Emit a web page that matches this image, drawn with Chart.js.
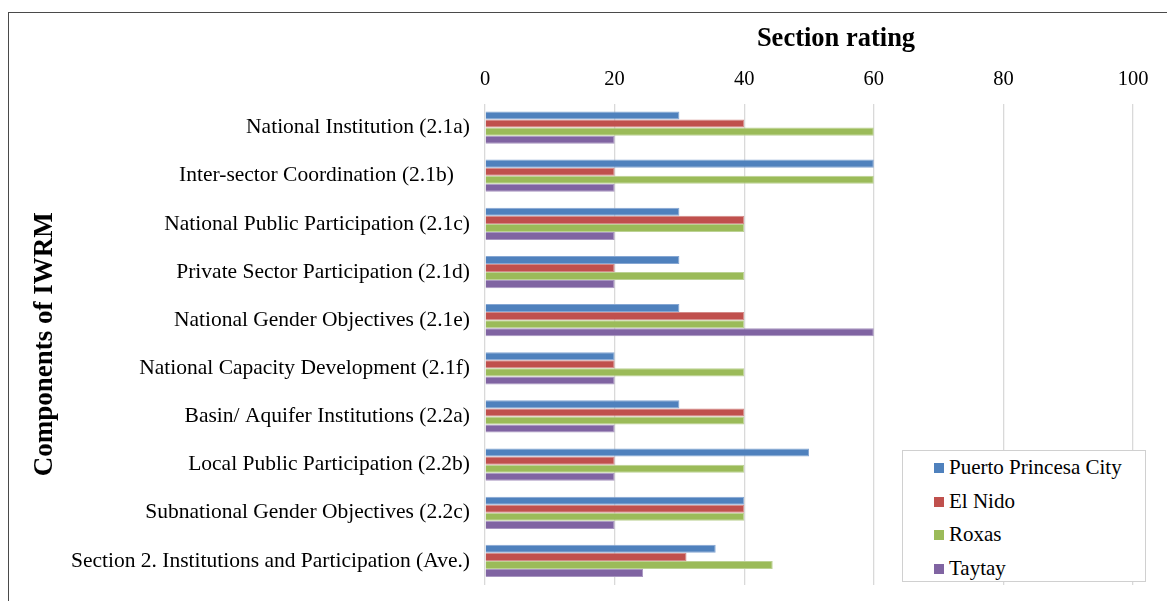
<!DOCTYPE html>
<html>
<head>
<meta charset="utf-8">
<script src="https://cdn.jsdelivr.net/npm/chart.js@4.4.1/dist/chart.umd.min.js"></script>
<style>
    html, body {
        margin: 0;
        padding: 0;
        background: #ffffff;
        overflow: hidden;
    }

    #wrap {
        position: relative;
        width: 1167px;
        height: 601px;
    }

    #frame {
        position: absolute;
        left: 8px;
        top: 12px;
        width: 1300px;
        height: 700px;
        border-left: 1px solid #4a4a4a;
        border-top: 1px solid #4a4a4a;
    }

    #chartCanvas {
        position: absolute;
        left: 0;
        top: 0;
    }

    #legend {
        position: absolute;
        left: 902px;
        top: 450px;
        width: 244px;
        height: 132px;
        border: 1px solid #d0d0d0;
        background: #ffffff;
        font-family: "Liberation Serif", serif;
        font-size: 21px;
        color: #000000;
        box-sizing: border-box;
        padding-top: 0px;
    }

    .legend-item {
        height: 33.5px;
        line-height: 33.5px;
        padding-left: 31px;
        white-space: nowrap;
    }

    .legend-box {
        display: inline-block;
        width: 10px;
        height: 10px;
        margin-right: 5px;
        vertical-align: 1px;
    }
</style>
</head>
<body>
<div id="wrap">
    <div id="frame"></div>
    <canvas id="chartCanvas" width="1167" height="601"></canvas>
    <div id="legend"></div>
</div>

<script>
const categories = [
    "National Institution (2.1a)",
    "Inter-sector Coordination (2.1b)   ",
    "National Public Participation (2.1c)",
    "Private Sector Participation (2.1d)",
    "National Gender Objectives (2.1e)",
    "National Capacity Development (2.1f)",
    "Basin/ Aquifer Institutions (2.2a)",
    "Local Public Participation (2.2b)",
    "Subnational Gender Objectives (2.2c)",
    "Section 2. Institutions and Participation (Ave.)",
];

const seriesNames = ["Puerto Princesa City", "El Nido", "Roxas", "Taytay"];

const puertoPrincesa = [30, 60, 30, 30, 30, 20, 30, 50, 40, 35.6];
const elNido = [40, 20, 40, 20, 40, 20, 40, 20, 40, 31.1];
const roxas = [60, 60, 40, 40, 40, 40, 40, 40, 40, 44.4];
const taytay = [20, 20, 20, 20, 60, 20, 20, 20, 20, 24.4];

const xTicks = [0, 20, 40, 60, 80, 100];

const seriesColors = ["#4f81bd", "#c0504d", "#9bbb59", "#8064a2"];
const seriesEdges = ["#86a7d3", "#d48a88", "#bcd294", "#a896c0"];

const serifFont = "'Liberation Serif', 'Times New Roman', serif";

const seriesValues = [puertoPrincesa, elNido, roxas, taytay];

const datasets = seriesNames.map((name, i) => ({
    label: name,
    data: seriesValues[i],
    backgroundColor: seriesColors[i],
    borderColor: seriesEdges[i],
    borderWidth: 1,
    categoryPercentage: 0.67,
    barPercentage: 1.0,
}));

// legend sits inside the plot, like the original
const legendDiv = document.getElementById("legend");
seriesNames.forEach((name, i) => {
    const item = document.createElement("div");
    item.className = "legend-item";
    const box = document.createElement("span");
    box.className = "legend-box";
    box.style.background = seriesColors[i];
    item.appendChild(box);
    item.appendChild(document.createTextNode(name));
    legendDiv.appendChild(item);
});

const topTitlePlugin = {
    id: "topTitle",
    afterDraw(chart) {
        const ctx = chart.ctx;
        ctx.save();
        ctx.font = "bold 26.5px " + serifFont;
        ctx.fillStyle = "#000000";
        ctx.textAlign = "center";
        ctx.textBaseline = "middle";
        ctx.fillText("Section rating", 836, 39);
        ctx.restore();
    },
};

new Chart(document.getElementById("chartCanvas"), {
    type: "bar",
    data: {
        labels: categories,
        datasets: datasets,
    },
    plugins: [topTitlePlugin],
    options: {
        indexAxis: "y",
        responsive: false,
        animation: false,
        layout: {
            padding: { left: 20, right: 34, top: 0, bottom: 16 },
        },
        plugins: {
            legend: { display: false },
            tooltip: { enabled: false },
        },
        scales: {
            x: {
                position: "top",
                min: 0,
                max: 100,
                afterBuildTicks: scale => {
                    scale.ticks = xTicks.map(v => ({ value: v }));
                },
                afterFit: scale => {
                    scale.height = 103.5;
                    scale.paddingLeft = 0;
                    scale.paddingRight = 0;
                },
                ticks: {
                    color: "#000000",
                    padding: 12,
                    font: { family: serifFont, size: 20.5 },
                },
                grid: {
                    color: "#d9d9d9",
                    lineWidth: 1.3,
                    drawTicks: false,
                },
                border: { display: false },
            },
            y: {
                afterFit: scale => {
                    scale.width = 465;
                    scale.paddingTop = 0;
                    scale.paddingBottom = 0;
                },
                ticks: {
                    color: "#000000",
                    padding: 15,
                    autoSkip: false,
                    font: { family: serifFont, size: 21.5 },
                },
                grid: { display: false, drawTicks: false },
                border: { display: false },
                title: {
                    display: true,
                    text: "Components of IWRM",
                    color: "#000000",
                    padding: { top: 9, bottom: 0 },
                    font: { family: serifFont, size: 27, weight: "bold" },
                },
            },
        },
    },
});
</script>
</body>
</html>
